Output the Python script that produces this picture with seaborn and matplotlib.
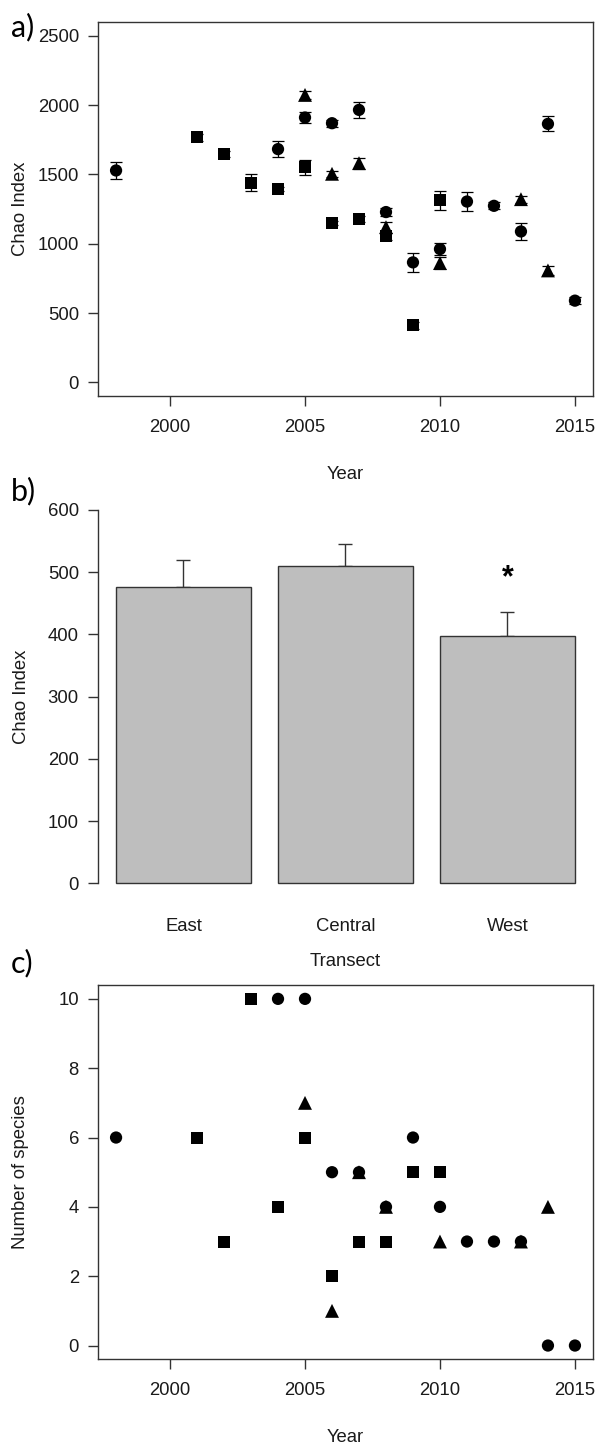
import matplotlib
matplotlib.use("Agg")
import matplotlib.pyplot as plt
import numpy as np
import pandas as pd
import seaborn as sns

# ---- a) Chao index per year (mean and SE), one symbol per transect group ----
circle_years = [1998, 2004, 2005, 2006, 2007, 2008, 2009, 2010, 2011, 2012, 2013, 2014, 2015]
circle_chao = [1529, 1683, 1911, 1870, 1966, 1229, 866, 962, 1305, 1274, 1089, 1865, 590]
circle_chao_se = [59, 55, 40, 25, 55, 30, 66, 45, 70, 25, 63, 54, 25]

square_years = [2001, 2002, 2003, 2004, 2005, 2006, 2007, 2008, 2009, 2010]
square_chao = [1769, 1647, 1442, 1394, 1553, 1149, 1178, 1053, 411, 1313]
square_chao_se = [25, 20, 63, 15, 55, 15, 20, 25, 25, 66]

triangle_years = [2005, 2006, 2007, 2008, 2010, 2013, 2014]
triangle_chao = [2074, 1505, 1582, 1120, 861, 1322, 808]
triangle_chao_se = [30, 20, 40, 40, 45, 25, 35]

# ---- b) mean Chao index per transect ----
transects = ["East", "Central", "West"]
transect_chao = [476, 510, 397]
transect_chao_se = [43, 35, 39]
significant = ["West"]

# ---- c) number of species per year ----
circle_species = [6, 10, 10, 5, 5, 4, 6, 4, 3, 3, 3, 0, 0]
square_species = [6, 3, 10, 4, 6, 2, 3, 3, 5, 5]
triangle_species = [7, 1, 5, 4, 3, 3, 4]

groups = {
    "circle": (circle_years, circle_chao, circle_chao_se, circle_species),
    "square": (square_years, square_chao, square_chao_se, square_species),
    "triangle": (triangle_years, triangle_chao, triangle_chao_se, triangle_species),
}
frames = []
for name, (yrs, chao, se, spp) in groups.items():
    frames.append(pd.DataFrame({"year": yrs, "chao": chao, "se": se,
                                "species": spp, "group": name}))
survey = pd.concat(frames, ignore_index=True)
bars = pd.DataFrame({"transect": transects, "chao": transect_chao, "se": transect_chao_se})

markers = {"circle": "o", "square": "s", "triangle": "^"}
marker_area = {"circle": 78, "square": 74, "triangle": 100}

sns.set_style("ticks")
plt.rcParams["font.family"] = ["Liberation Sans", "DejaVu Sans"]
plt.rcParams["font.size"] = 13.3
TXT = "#1a1a1a"
LINE = "#333333"

W, H = 598, 1447
fig = plt.figure(figsize=(W / 100, H / 100), dpi=100)


def axes_px(x0, y0, x1, y1):
    return fig.add_axes([x0 / W, 1 - y1 / H, (x1 - x0) / W, (y1 - y0) / H])


def style_axis(ax):
    for sp in ax.spines.values():
        sp.set_color(LINE)
        sp.set_linewidth(1.0)
    ax.tick_params(axis="both", direction="out", length=7.5, width=1.0,
                   color=LINE, labelcolor=TXT, labelsize=13.3)
    ax.tick_params(axis="x", pad=9)
    ax.tick_params(axis="y", pad=6)
    ax.xaxis.label.set_color(TXT)
    ax.yaxis.label.set_color(TXT)


def year_panel(ax, ycol, ylim, yticks, ylabel, with_err):
    if with_err:
        ax.errorbar(survey["year"], survey[ycol], yerr=survey["se"], fmt="none",
                    ecolor="black", elinewidth=0.9, capsize=4.2, capthick=0.9, zorder=2)
    for name in ["square", "triangle", "circle"]:
        sub = survey[survey["group"] == name]
        sns.scatterplot(data=sub, x="year", y=ycol, marker=markers[name],
                        s=marker_area[name], color="black", edgecolor="none",
                        linewidth=0, ax=ax, zorder=3, legend=False)
    ax.set_xlim(1997.32, 2015.68)
    ax.set_ylim(*ylim)
    ax.set_xticks([2000, 2005, 2010, 2015])
    ax.set_yticks(yticks)
    ax.set_xlabel("Year", fontsize=13.3)
    ax.set_ylabel(ylabel, fontsize=13.3)
    style_axis(ax)


# a)
ax_a = axes_px(97.7, 22, 593.3, 396.3)
year_panel(ax_a, "chao", (-100, 2600), [0, 500, 1000, 1500, 2000, 2500], "Chao Index", True)
ax_a.xaxis.set_label_coords(0.5, (396.3 - 475) / (396.3 - 22))
ax_a.xaxis.label.set_va("center")
ax_a.yaxis.set_label_coords((21 - 97.7) / 495.6, 0.5)
ax_a.yaxis.label.set_va("center")

# b)
ax_b = axes_px(97.6, 495, 593.3, 898.2)
sns.barplot(data=bars, x="transect", y="chao", order=transects, color="#bebebe",
            saturation=1, edgecolor=LINE, linewidth=1.0, width=0.833,
            errorbar=None, ax=ax_b, zorder=2)
ax_b.errorbar(np.arange(len(transects)), bars["chao"],
              yerr=[np.zeros(len(transects)), bars["se"]], fmt="none",
              ecolor=LINE, elinewidth=1.0, capsize=4.8, capthick=1.0, zorder=1)
for i, t in enumerate(transects):
    if t in significant:
        ax_b.text(i, bars["chao"][i] + bars["se"][i] + 55, "*", ha="center",
                  va="center", fontsize=22, fontweight="bold", color="black")
ax_b.set_xlim(-0.53, 2.53)
ax_b.set_ylim(-24, 624)
ax_b.set_yticks([0, 100, 200, 300, 400, 500, 600])
ax_b.set_xlabel("Transect", fontsize=13.3)
ax_b.set_ylabel("Chao Index", fontsize=13.3)
style_axis(ax_b)
for s in ["top", "right", "bottom"]:
    ax_b.spines[s].set_visible(False)
ax_b.spines["left"].set_bounds(0, 600)
ax_b.tick_params(axis="x", length=0, pad=14)
ax_b.xaxis.set_label_coords(0.5, (898.2 - 962) / (898.2 - 495))
ax_b.xaxis.label.set_va("center")
ax_b.yaxis.set_label_coords((21 - 97.6) / 495.7, 0.5)
ax_b.yaxis.label.set_va("center")

# c)
ax_c = axes_px(97.7, 985, 593.3, 1359.4)
year_panel(ax_c, "species", (-0.4, 10.4), [0, 2, 4, 6, 8, 10], "Number of species", False)
ax_c.xaxis.set_label_coords(0.5, (1359.4 - 1437) / (1359.4 - 985))
ax_c.xaxis.label.set_va("center")
ax_c.yaxis.set_label_coords((21 - 97.7) / 495.6, 0.5)
ax_c.yaxis.label.set_va("center")

# panel letters
for letter, ybase in [("a)", 36), ("b)", 500), ("c)", 972)]:
    fig.text(11 / W, 1 - ybase / H, letter, fontsize=22, color="black",
             family=["Lato", "DejaVu Sans"], ha="left", va="baseline")

fig.savefig("out.png", dpi=100)
